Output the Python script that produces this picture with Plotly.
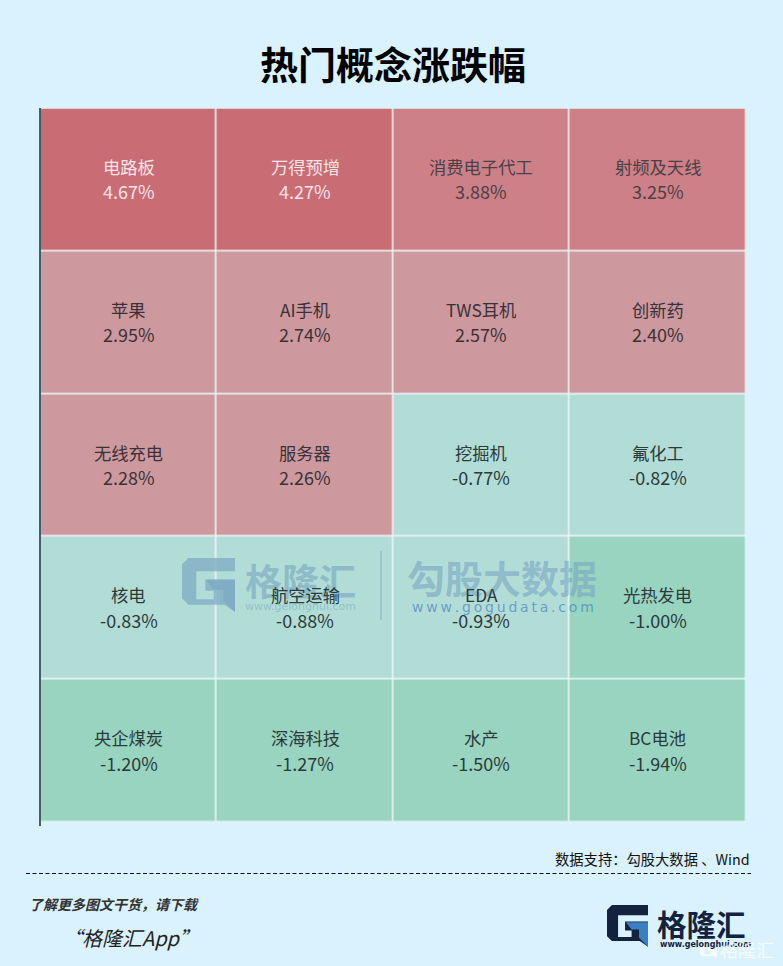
import plotly.graph_objects as go

W, H = 783, 966
names = ["电路板", "万得预增", "消费电子代工", "射频及天线",
         "苹果", "AI手机", "TWS耳机", "创新药",
         "无线充电", "服务器", "挖掘机", "氟化工",
         "核电", "航空运输", "EDA", "光热发电",
         "央企煤炭", "深海科技", "水产", "BC电池"]
values = [4.67, 4.27, 3.88, 3.25,
          2.95, 2.74, 2.57, 2.40,
          2.28, 2.26, -0.77, -0.82,
          -0.83, -0.88, -0.93, -1.00,
          -1.20, -1.27, -1.50, -1.94]
NCOL = 4
NROW = 5
FONT = "Noto Sans CJK SC"

rows = [values[i:i + NCOL] for i in range(0, len(values), NCOL)]
rows_txt = [names[i:i + NCOL] for i in range(0, len(names), NCOL)]

ZMIN, ZMAX = -2.0, 5.0
bins = [(-2.0, -0.95, "#98D4C0"), (-0.95, 0.0, "#B2DDD7"), (0.0, 3.0, "#CD999F"),
        (3.0, 4.0, "#CD8087"), (4.0, 5.0, "#C96C73")]
scale = []
for lo, hi, c in bins:
    scale.append([(lo - ZMIN) / (ZMAX - ZMIN), c])
    scale.append([(hi - ZMIN) / (ZMAX - ZMIN), c])


def px(x):
    return x / W


def py(y):
    return 1 - y / H


def path(points):
    return "M " + " L ".join(f"{px(x):.5f} {py(y):.5f}" for x, y in points) + " Z"


def g_logo(x0, y0, s, outer, inner, opacity=1.0):
    pts = [(0.12, 0), (1, 0), (1, 0.25), (0.27, 0.25), (0.27, 0.78), (0.60, 0.78), (0.60, 0.62), (0.44, 0.62),
           (0.44, 0.40), (1, 0.40), (1, 1.02), (0.80, 0.88), (0.12, 0.88), (0, 0.76), (0, 0.12)]
    tri = [(0.46, 0.42), (1, 0.42), (1, 1.02), (0.78, 0.80), (0.78, 0.60), (0.60, 0.60)]
    return [
        dict(type="path", xref="paper", yref="paper", path=path([(x0 + a * s, y0 + b * s) for a, b in pts]),
             fillcolor=outer, line_width=0, opacity=opacity, layer="above"),
        dict(type="path", xref="paper", yref="paper", path=path([(x0 + a * s, y0 + b * s) for a, b in tri]),
             fillcolor=inner, line_width=0, opacity=opacity, layer="above"),
    ]


fig = go.Figure(go.Heatmap(
    z=rows, x=list(range(NCOL)), y=list(range(NROW)),
    zmin=ZMIN, zmax=ZMAX, colorscale=scale, showscale=False,
    xgap=1.6, ygap=1.6, hoverinfo="skip",
))

ann = []


def t(x, y, s, size, color="#111", anchor="center", **kw):
    ann.append(dict(xref="paper", yref="paper", x=px(x), y=py(y), text=s, showarrow=False, xanchor=anchor,
                    yanchor="middle", font=dict(family=kw.pop("family", FONT), size=size, color=color), **kw))


t(393, 62, "<b>热门概念涨跌幅</b>", 38, "#000000")
# watermark
t(243, 580, "<b>格隆汇</b>", 37, "rgba(120,165,190,0.62)", "left")
t(243, 606, "www.gelonghui.com", 11, "rgba(120,165,190,0.55)", "left", family="DejaVu Sans")
t(405, 576, "<b>勾股大数据</b>", 38, "rgba(120,165,195,0.62)", "left")
t(410, 607, "\u2009".join("www.gogudata.com"), 14, "rgba(70,130,190,0.7)", "left", family="DejaVu Sans")

for r, (rn, rv) in enumerate(zip(rows_txt, rows)):
    for c, (n, v) in enumerate(zip(rn, rv)):
        col = "#F6E4E8" if v >= 4 else "#4A4046" if v >= 3 else "#3A3138" if v > 0 else "#2B3A3A"
        ann.append(dict(x=c, y=r, xref="x", yref="y", text=n, showarrow=False, yshift=13.5,
                        font=dict(family=FONT, size=17.3, color=col)))
        ann.append(dict(x=c, y=r, xref="x", yref="y", text=f"{v:.2f}%", showarrow=False, yshift=-11.5,
                        font=dict(family=FONT, size=18, color=col)))

# footer
t(752, 858, "数据支持：勾股大数据 、Wind", 14.3, "#111111", "right")
t(27, 904, "<b><i>了解更多图文干货，请下载</i></b>", 14, "#333333", "left")
t(60, 937, "<i>“格隆汇App”</i>", 20, "#222222", "left")
t(655, 923, "<b>格隆汇</b>", 29.5, "#13233F", "left")
t(658, 944, "<b>www.gelonghui.com</b>", 8, "#13233F", "left", family="DejaVu Sans")
t(776, 949, "格隆汇", 18, "rgba(255,255,255,0.75)", "right")

shapes = [
    dict(type="line", xref="paper", yref="paper", x0=px(40), x1=px(40), y0=py(108), y1=py(826),
         line=dict(color="#12303A", width=1.5), layer="above"),
    dict(type="line", xref="paper", yref="paper", x0=px(26), x1=px(751), y0=py(873.5), y1=py(873.5),
         line=dict(color="#111111", width=1, dash="4px,2.5px")),
    dict(type="line", xref="paper", yref="paper", x0=px(381), x1=px(381), y0=py(551), y1=py(620),
         line=dict(color="rgba(120,165,190,0.55)", width=1.5), layer="above"),
]
shapes += g_logo(182, 558, 53, "rgba(125,170,195,0.75)", "rgba(125,170,195,0.75)")
shapes += g_logo(607, 905, 41, "#13233F", "#3A7FC1")
shapes += g_logo(700, 941, 17, "rgba(255,255,255,0.7)", "rgba(255,255,255,0.2)")

fig.update_layout(
    width=W, height=H, autosize=False,
    margin=dict(l=0, r=0, t=0, b=0),
    paper_bgcolor="#D9F2FE", plot_bgcolor="#EAF6F6",
    showlegend=False,
    xaxis=dict(domain=[px(40.5), px(746)], range=[-0.5, NCOL - 0.5], visible=False, fixedrange=True),
    yaxis=dict(domain=[py(822.5), py(108.5)], range=[NROW - 0.5, -0.5], visible=False, fixedrange=True),
    annotations=ann, shapes=shapes,
)
fig.write_html("out.html", config=dict(displayModeBar=False),
               post_script="document.body.style.margin='0';document.body.style.overflow='hidden';")
